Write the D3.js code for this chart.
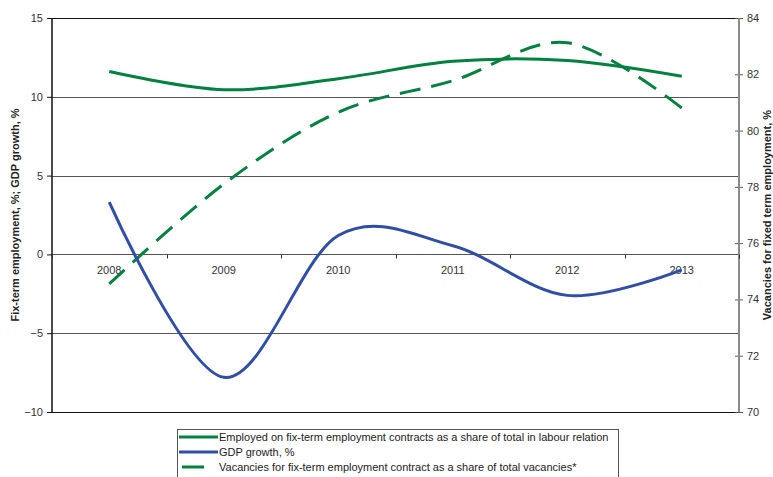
<!DOCTYPE html>
<html>
<head>
<meta charset="utf-8">
<script src="https://cdn.jsdelivr.net/npm/d3@7"></script>
<style>
  html, body { margin: 0; padding: 0; background: #fff; }
  svg { display: block; font-family: "Liberation Sans", Arial, sans-serif; }
</style>
</head>
<body>
<svg id="chart" width="773" height="477"></svg>
<script>
// Years on the category axis
const years = ["2008", "2009", "2010", "2011", "2012", "2013"];
// Share of employed on fixed-term contracts, % (left axis)
const fixTermShare = [11.6, 10.45, 11.15, 12.25, 12.3, 11.3];
// GDP growth, % (left axis)
const gdpGrowth = [3.32, -7.8, 1.2, 0.55, -2.6, -0.98];
// Vacancies for fixed-term contracts as a share of all vacancies, % (right axis)
const vacancyShare = [74.55, 78.1, 80.65, 81.77, 83.12, 80.8];
// Axis ticks
const leftTicks = [-10, -5, 0, 5, 10, 15];
const rightTicks = [70, 72, 74, 76, 78, 80, 82, 84];
// Legend entries
const legendLabels = [
  "Employed on fix-term employment contracts as a share of total in labour relation",
  "GDP growth, %",
  "Vacancies for fix-term employment contract as a share of total vacancies*"
];

const green = "#00813f";
const blue = "#2f4ea6";

const svg = d3.select("#chart");
const plotLeft = 52, plotRight = 739, plotTop = 18, plotBottom = 412;

const x = d3.scaleBand().domain(years).range([plotLeft, plotRight]);
const cx = d => x(d) + x.bandwidth() / 2;
const yL = d3.scaleLinear().domain([-10, 15]).range([plotBottom, plotTop]);
const yR = d3.scaleLinear().domain([70, 84]).range([plotBottom, plotTop]);

// Horizontal gridlines
svg.append("g").selectAll("line").data(leftTicks).join("line")
  .attr("x1", plotLeft).attr("x2", plotRight)
  .attr("y1", d => Math.round(yL(d)) + 0.5).attr("y2", d => Math.round(yL(d)) + 0.5)
  .attr("stroke", d => (d === 15 || d === -10) ? "#111" : "#555")
  .attr("stroke-width", 1);

// Left axis
const gL = svg.append("g").attr("transform", `translate(${plotLeft},0)`)
  .call(d3.axisLeft(yL).tickValues(leftTicks).tickSize(5).tickPadding(4));
gL.select(".domain").remove();
gL.selectAll(".tick line").attr("stroke", "#111");
gL.selectAll(".tick text").attr("font-size", 11).attr("fill", "#333")
  .attr("font-family", "'Liberation Sans', Arial, sans-serif");
svg.append("line").attr("x1", plotLeft).attr("x2", plotLeft).attr("y1", plotTop).attr("y2", plotBottom + 0.5)
  .attr("stroke", "#111").attr("stroke-width", 1.5);

// Right axis
const gR = svg.append("g").attr("transform", `translate(${plotRight},0)`)
  .call(d3.axisRight(yR).tickValues(rightTicks).tickSize(4).tickPadding(4));
gR.select(".domain").remove();
gR.selectAll(".tick line").attr("x1", -4).attr("x2", 4).attr("stroke", "#555");
gR.selectAll(".tick text").attr("font-size", 11).attr("fill", "#333")
  .attr("font-family", "'Liberation Sans', Arial, sans-serif");
svg.append("line").attr("x1", plotRight).attr("x2", plotRight).attr("y1", plotTop).attr("y2", plotBottom)
  .attr("stroke", "#8a8a8a").attr("stroke-width", 2);

// Category ticks on the zero line
const edges = years.map(d => x(d)).concat([plotRight]);
svg.append("g").selectAll("line").data(edges).join("line")
  .attr("x1", d => Math.round(d) + 0.5).attr("x2", d => Math.round(d) + 0.5)
  .attr("y1", Math.round(yL(0)) + 0.5).attr("y2", Math.round(yL(0)) + 4.5)
  .attr("stroke", "#333").attr("stroke-width", 1);

// Category labels
svg.append("g").selectAll("text").data(years).join("text")
  .attr("x", d => cx(d)).attr("y", yL(0) + 20)
  .attr("text-anchor", "middle").attr("font-size", 11).attr("fill", "#333")
  .text(d => d);

// Series lines (smoothed)
const curve = d3.curveCardinal.tension(0);
const lineL = d3.line().x((d, i) => cx(years[i])).y(d => yL(d)).curve(curve);
const lineR = d3.line().x((d, i) => cx(years[i])).y(d => yR(d)).curve(curve);

svg.append("path").attr("d", lineR(vacancyShare))
  .attr("fill", "none").attr("stroke", green).attr("stroke-width", 3)
  .attr("stroke-dasharray", "21,11");
svg.append("path").attr("d", lineL(fixTermShare))
  .attr("fill", "none").attr("stroke", green).attr("stroke-width", 3);
svg.append("path").attr("d", lineL(gdpGrowth))
  .attr("fill", "none").attr("stroke", blue).attr("stroke-width", 3);

// Axis titles
svg.append("text")
  .attr("transform", `translate(19,${(plotTop + plotBottom) / 2}) rotate(-90)`)
  .attr("text-anchor", "middle").attr("font-size", 11).attr("font-weight", "bold").attr("fill", "#222")
  .text("Fix-term employment, %; GDP growth, %");
svg.append("text")
  .attr("transform", `translate(771,${(plotTop + plotBottom) / 2}) rotate(-90)`)
  .attr("text-anchor", "middle").attr("font-size", 11).attr("font-weight", "bold").attr("fill", "#222")
  .text("Vacancies for fixed term employment, %");

// Legend
const lg = svg.append("g");
lg.append("rect").attr("x", 177.5).attr("y", 429.5).attr("width", 441).attr("height", 60)
  .attr("fill", "#fff").attr("stroke", "#555").attr("stroke-width", 1);
const styles = [
  { color: green, x1: 179, x2: 218 },
  { color: blue, x1: 179, x2: 218 },
  { color: green, x1: 182, x2: 204 }
];
legendLabels.forEach((label, i) => {
  const yy = 437 + i * 15;
  lg.append("line").attr("x1", styles[i].x1).attr("x2", styles[i].x2)
    .attr("y1", yy).attr("y2", yy)
    .attr("stroke", styles[i].color).attr("stroke-width", 3);
  lg.append("text").attr("x", 219).attr("y", yy + 4)
    .attr("font-size", 11).attr("fill", "#222").text(label);
});
</script>
</body>
</html>
